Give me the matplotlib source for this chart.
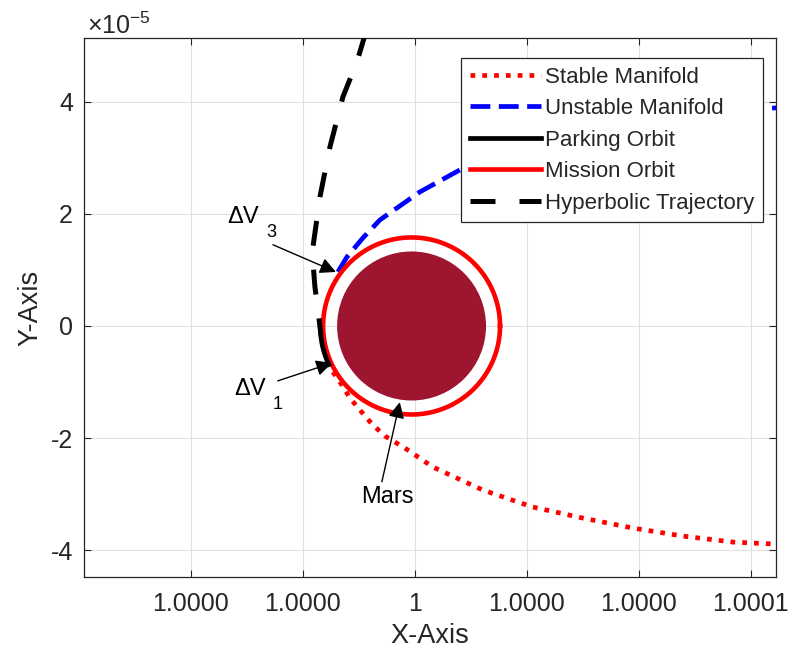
import numpy as np
import matplotlib
matplotlib.use("Agg")
import matplotlib.pyplot as plt
from matplotlib.patches import Circle

plt.rcParams["font.family"] = ["Liberation Sans", "DejaVu Sans"]
plt.rcParams["mathtext.fontset"] = "custom"
plt.rcParams["mathtext.rm"] = "Liberation Sans"
plt.rcParams["mathtext.it"] = "Liberation Sans:italic"
plt.rcParams["axes.unicode_minus"] = False

SCALE = 1e-5  # all offsets below are in units of 1e-5 (normalised distance)

# hyperbolic arrival leg (offset from x = 1)
hyp_dx = [-0.875, -1.036, -1.286, -1.518, -1.696, -1.821, -1.821, -1.786, -1.732, -1.679]
hyp_dy = [5.25, 4.714, 4.089, 3.196, 2.304, 1.411, 1.143, 0.696, 0.286, -0.161]

# unstable manifold branch leaving the mission orbit
uns_dx = [-1.375, -1.214, -0.929, -0.625, 0.089, 0.804, 1.875, 3.304, 4.732, 6.214, 6.446, 6.7]
uns_dy = [0.964, 1.232, 1.571, 1.893, 2.393, 2.786, 3.214, 3.554, 3.75, 3.875, 3.893, 3.9]

# stable manifold branch arriving at the mission orbit
stb_dx = [-1.464, -1.304, -1.161, -0.982, -0.768, -0.536, -0.179, 0.321, 1.214, 2.107,
          3.0, 3.893, 4.786, 5.679, 6.446, 6.696]
stb_dy = [-0.821, -1.054, -1.286, -1.5, -1.75, -1.964, -2.179, -2.518, -2.929, -3.232,
          -3.429, -3.607, -3.75, -3.857, -3.893, -3.911]

mars_dx = -0.06
mars_radius = 1.33
mission_radius = 1.58
parking_radius = 1.63
parking_arc_deg = [186, 205]

x_ticks = [-4, -2, 0, 2, 4, 6]
x_tick_labels = ["1.0000", "1.0000", "1", "1.0000", "1.0000", "1.0001"]
y_ticks = [-4, -2, 0, 2, 4]
y_tick_labels = ["-4", "-2", "0", "2", "4"]

TXT = "#262626"

def to_x(d):
    return 1 + np.asarray(d) * SCALE

def to_y(d):
    return np.asarray(d) * SCALE

fig = plt.figure(figsize=(7.98, 6.55), dpi=100)
ax = fig.add_axes([0.1053, 0.1191, 0.8672, 0.8229])

lw = 3.4
ax.plot(to_x(stb_dx), to_y(stb_dy), color="red", lw=lw, dashes=(1, 1.5),
        dash_capstyle="butt", label="Stable Manifold", zorder=3)
ax.plot(to_x(uns_dx), to_y(uns_dy), color="blue", lw=lw, dashes=(4.2, 1.8),
        label="Unstable Manifold", zorder=3)

th = np.linspace(0, 2 * np.pi, 400)
mission, = ax.plot(to_x(mars_dx + mission_radius * np.cos(th)),
                   to_y(mission_radius * np.sin(th)), color="red", lw=3.3, zorder=4)

tp = np.radians(np.linspace(parking_arc_deg[0], parking_arc_deg[1], 40))
parking, = ax.plot(to_x(mars_dx + parking_radius * np.cos(tp)),
                   to_y(parking_radius * np.sin(tp)), color="black", lw=lw, zorder=5)

ax.plot(to_x(hyp_dx), to_y(hyp_dy), color="black", lw=3.6, dashes=(5, 4.8),
        label="Hyperbolic Trajectory", zorder=5)

ax.add_patch(Circle((to_x(mars_dx), 0), mars_radius * SCALE, color="#9E1530",
                    ec="none", zorder=4))

# annotations
arrow = dict(arrowstyle="-|>", color="black", lw=1.0, mutation_scale=24,
             shrinkA=0, shrinkB=0)


def delta_v(x, y, sub):
    ax.text(to_x(x), to_y(y), "ΔV", fontsize=17, color="black", ha="left", va="center")
    ax.annotate(sub, xy=(to_x(x), to_y(y)), xytext=(28, -11), textcoords="offset points",
                fontsize=13, color="black", ha="left", va="center")


ax.annotate("", xy=(to_x(-1.411), to_y(0.964)), xytext=(to_x(-2.536), to_y(1.45)),
            arrowprops=arrow, zorder=6)
delta_v(-3.35, 1.95, "3")
ax.annotate("", xy=(to_x(-1.482), to_y(-0.66)), xytext=(to_x(-2.45), to_y(-0.98)),
            arrowprops=arrow, zorder=6)
delta_v(-3.23, -1.13, "1")
ax.annotate("", xy=(to_x(-0.27), to_y(-1.36)), xytext=(to_x(-0.59), to_y(-2.78)),
            arrowprops=arrow, zorder=6)
ax.text(to_x(-0.5), to_y(-3.06), "Mars", fontsize=17, color="black",
        ha="center", va="center")

ax.set_xlim(to_x(-5.91), to_x(6.45))
ax.set_ylim(to_y(-4.48), to_y(5.14))
ax.set_xticks(to_x(x_ticks), x_tick_labels)
ax.set_yticks(to_y(y_ticks), y_tick_labels)
ax.tick_params(direction="in", length=5, width=0.8, colors=TXT, labelsize=18,
               top=True, right=True, pad=8)
ax.tick_params(axis="x", pad=11)
for s in ax.spines.values():
    s.set_color(TXT)
    s.set_linewidth(0.9)
ax.grid(True, color="#e0e0e0", lw=0.8)
ax.set_axisbelow(True)
ax.set_xlabel("X-Axis", fontsize=19.5, color=TXT, labelpad=5)
ax.set_ylabel("Y-Axis", fontsize=19.5, color=TXT, labelpad=5)
fig.text(87 / 798, 1 - 34 / 655, "×10$^{-5}$", fontsize=18, color=TXT,
         ha="left", va="baseline")

handles = [ax.lines[0], ax.lines[1], parking, mission, ax.lines[4]]
labels = ["Stable Manifold", "Unstable Manifold", "Parking Orbit", "Mission Orbit",
          "Hyperbolic Trajectory"]
leg = ax.legend(handles, labels, loc="upper right", bbox_to_anchor=(0.981, 0.963),
                borderaxespad=0, fontsize=16, handlelength=3.2, handletextpad=0.15,
                labelspacing=0.47, borderpad=0.4, fancybox=False, framealpha=1)
leg.get_frame().set_edgecolor(TXT)
leg.get_frame().set_linewidth(0.9)
for t in leg.get_texts():
    t.set_color(TXT)

fig.savefig("out.png", dpi=100)
